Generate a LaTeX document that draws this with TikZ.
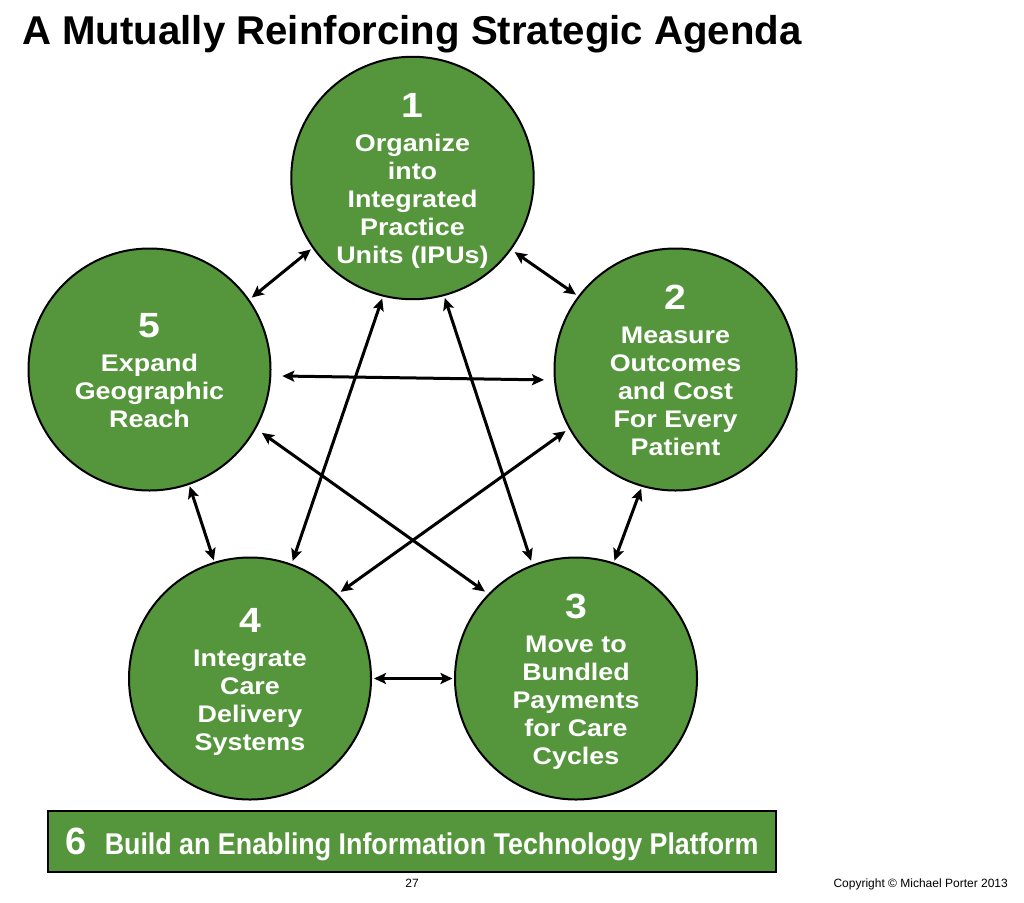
\documentclass[tikz,border=0pt]{standalone}
\usepackage{fontspec}
\setmainfont{Liberation Sans}
\usetikzlibrary{arrows.meta}
\definecolor{agreen}{RGB}{85,150,60}
\newcommand\circtext[2]{\fontsize{24}{28}\selectfont\raisebox{0pt}[\dimexpr\height+10pt\relax]{\scalebox{1.12}[1]{\begin{tabular}{@{}c@{}}\fontsize{35}{35}\selectfont #1\\[6pt] #2\end{tabular}}}}
\begin{document}
\begin{tikzpicture}[x=1pt,y=-1pt,
  circ/.style={circle, draw=black, line width=2pt, fill=agreen, minimum size=242pt, inner sep=0pt, outer sep=0pt, text=white, font=\bfseries},
  arr/.style={{Stealth[length=12pt,width=11pt,inset=2.5pt]}-{Stealth[length=12pt,width=11pt,inset=2.5pt]}, line width=3pt},
  platform/.style={draw=black, line width=2.5pt, fill=agreen, minimum width=728pt, minimum height=61pt, inner sep=0pt, text=white, font=\bfseries, text depth=0pt},
  small/.style={font=\fontsize{12}{14}\selectfont, inner sep=0pt, anchor=base}]
\useasboundingbox (0,0) rectangle (1024,902);
\fill[white] (0,0) rectangle (1024,902);

\node[anchor=base west, inner sep=0pt, font=\fontsize{40.2}{44}\selectfont\bfseries] (title) at (22,44) {A Mutually Reinforcing Strategic Agenda};

\node[circ] (c1) at (412.5,178) {\circtext{1}{Organize\\into\\Integrated\\Practice\\Units (IPUs)}};
\node[circ] (c2) at (675.5,369.5) {\circtext{2}{Measure\\Outcomes\\and Cost\\For Every\\Patient}};
\node[circ] (c3) at (576,678.5) {\circtext{3}{Move to\\Bundled\\Payments\\for Care\\Cycles}};
\node[circ] (c4) at (250,678.5) {\circtext{4}{Integrate\\Care\\Delivery\\Systems}};
\node[circ] (c5) at (149.5,369.5) {\circtext{5}{Expand\\Geographic\\Reach}};

\draw[arr, shorten <=3pt, shorten >=4pt] (c1.215.5) -- (c5.35.7);
\draw[arr, shorten <=5pt, shorten >=3.5pt] (c1.-36.3) -- (c2.143.3);
\draw[arr, shorten <=3pt, shorten >=4pt] (c1.256.1) -- (c4.70.5);
\draw[arr, shorten <=3pt, shorten >=5pt] (c1.-75.9) -- (c3.111.8);
\draw[arr, shorten <=12pt, shorten >=11pt] (c5.-3.2) -- (c2.185.6);
\draw[arr, shorten <=8pt, shorten >=5pt] (c5.-29.1) -- (c3.136.4);
\draw[arr, shorten <=5pt, shorten >=4.5pt] (c2.209) -- (c4.44.2);
\draw[arr, shorten <=2.5pt, shorten >=2.5pt] (c5.-71.7) -- (c4.107.8);
\draw[arr, shorten <=3pt, shorten >=3pt] (c2.-106.9) -- (c3.72.1);
\draw[arr, shorten <=3pt, shorten >=2.5pt] (c4.0) -- (c3.180);

\node[platform] (p6) at (412,841.5) {{\fontsize{38}{38}\selectfont 6}\hspace{18pt}\scalebox{0.894}[1]{\fontsize{30}{30}\selectfont Build an Enabling Information Technology Platform}};

\node[small] (page) at (412,887) {27};
\node[small, anchor=base east] (copy) at (1008,887) {Copyright \textcopyright{} Michael Porter 2013};
\end{tikzpicture}
\end{document}
